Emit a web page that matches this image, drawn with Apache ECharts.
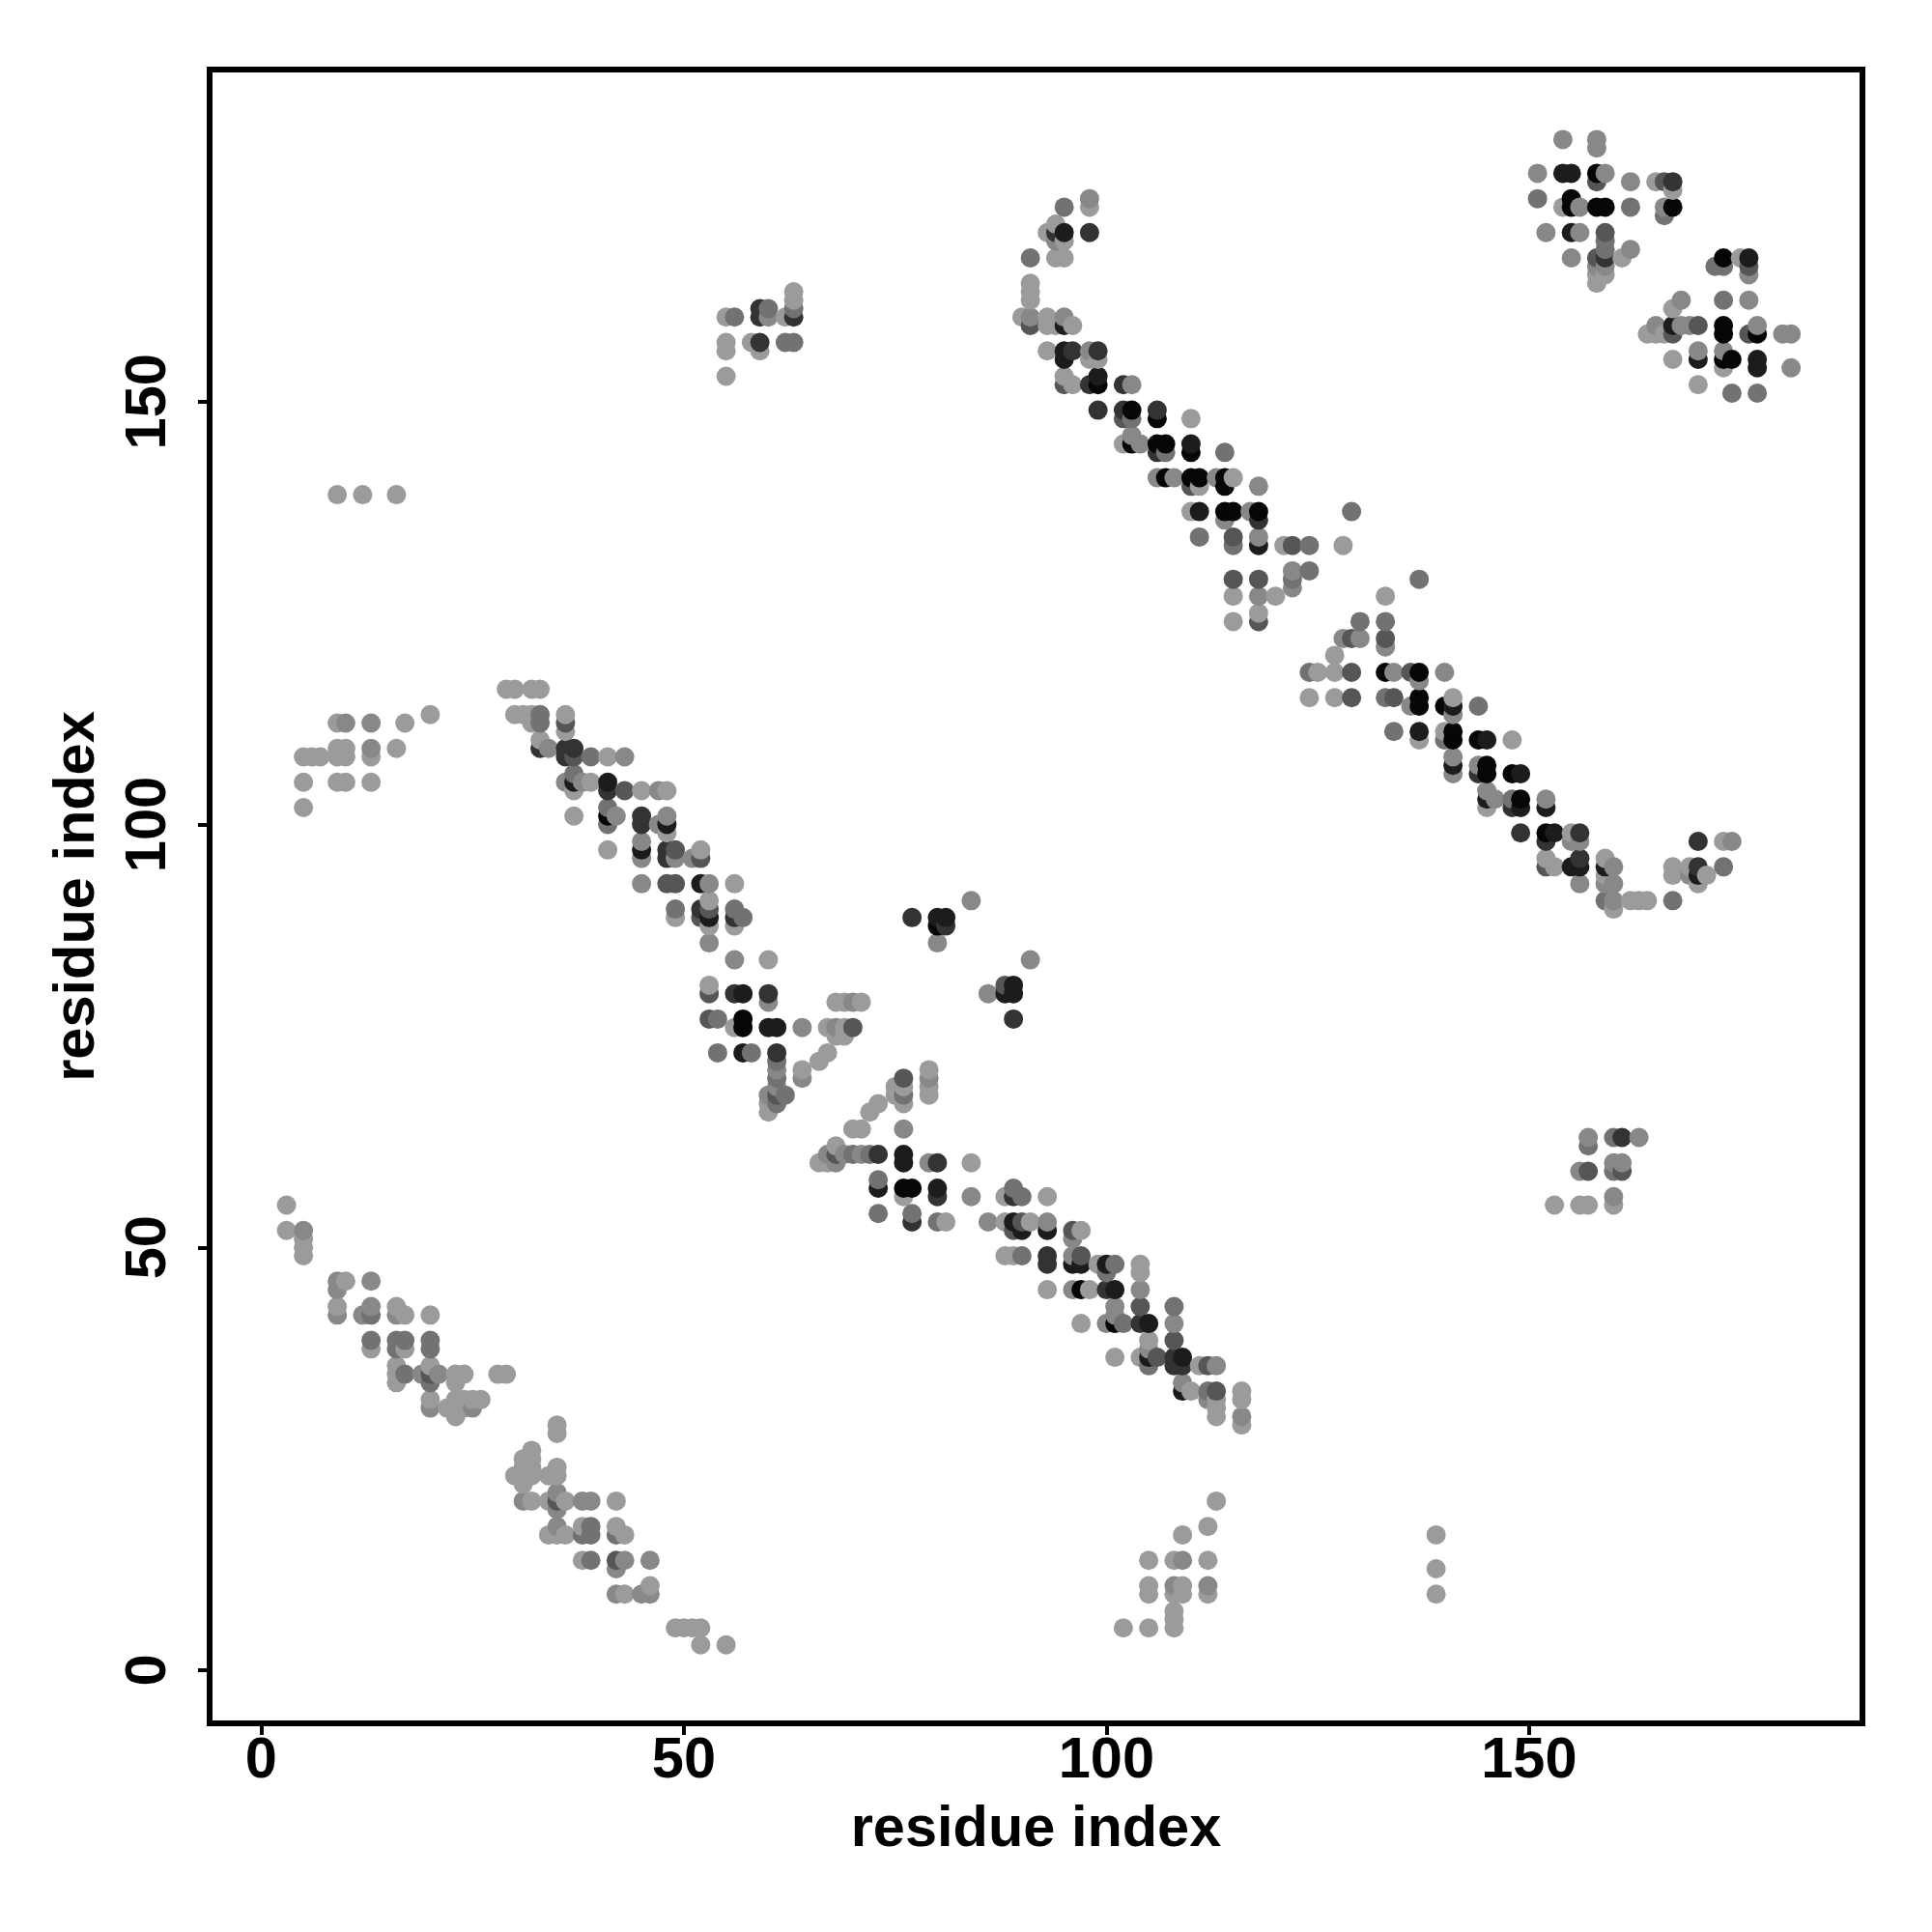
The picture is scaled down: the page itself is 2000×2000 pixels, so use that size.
<!DOCTYPE html>
<html><head><meta charset="utf-8">
<script src="https://cdn.jsdelivr.net/npm/echarts@6/dist/echarts.min.js"></script>
<style>html,body{margin:0;padding:0;background:#fff}#c{width:2000px;height:2000px}</style>
</head><body><div id="c"></div>
<script>
// each point: [residue x, residue y, shade index]
const shadeGreys = ['', '#9b9b9b', '#888888', '#727272', '#565656', '#333333', '#1c1c1c', '#060606'];
const xTicks = [0, 50, 100, 150];
const yTicks = [0, 50, 100, 150];
const axisTitle = 'residue index';

const stripLowLeft = [
[3,55,1],[3,52,1],[5,52,2],[5,51,1],[5,50,1],[5,49,1],
[9,46,2],[10,46,1],[13,46,2],[9,45,2],[9,43,1],[13,43,2],[16,43,1],
[9,42,2],[12,42,2],[13,42,3],[16,42,2],[17,42,1],[20,42,1],
[13,39,3],[16,39,3],[17,39,3],[20,39,3],[13,38,1],[16,38,3],[17,38,1],[20,38,3],
[16,36,1],[20,36,1],[16,35,1],[17,35,3],[19,35,2],[20,35,4],[21,35,2],[23,35,1],[24,35,1],[28,35,1],[29,35,1],
[16,34,1],[20,34,3],[23,34,1],[20,32,1],[23,32,1],[24,32,1],[25,32,1],[26,32,1],
[20,31,2],[22,31,1],[23,31,1],[24,31,1],[25,31,2],[23,30,1],
[35,29,1],[35,28,1],[32,26,1],[31,25,1],[32,25,1],[31,24,1],[32,24,1],[35,24,1],
[30,23,1],[31,23,1],[32,23,1],[34,23,1],[35,23,1],[31,22,1],[35,21,2],
[31,20,2],[32,20,1],[34,20,1],[35,20,4],[36,20,1],[38,20,2],[39,20,2],[42,20,1],[35,19,2],
[35,17,2],[38,17,1],[39,17,3],[42,17,1],[34,16,1],[35,16,1],[36,16,1],[38,16,3],[39,16,3],[42,16,3],[43,16,1],
[38,13,1],[39,13,3],[42,13,4],[43,13,2],[46,13,2],[42,12,2],[46,10,1],[42,9,2],[43,9,1],[45,9,2],[46,9,2],
[49,5,1],[50,5,1],[51,5,1],[52,5,1],[52,3,1],[55,3,1]
];
const stripMiddle = [
[49,93,4],[52,93,6],[53,93,2],[56,93,1],[49,90,3],[52,90,5],[53,90,4],[56,90,3],
[49,89,1],[52,89,4],[53,89,6],[56,89,5],[57,89,3],[53,91,1],[53,88,1],[56,88,1],[53,86,2],
[56,84,2],[60,84,1],[53,81,1],[53,80,4],[56,80,5],[57,80,6],[60,80,5],[60,79,2],
[53,77,4],[54,77,3],[56,76,1],[57,77,7],[57,76,7],[60,76,6],[61,76,6],[64,76,2],
[54,73,3],[57,73,6],[58,73,3],[61,73,5],[61,72,3],[61,71,2],[61,70,3],[61,69,2],
[60,68,2],[61,68,4],[62,68,3],[60,67,1],[61,67,3],[60,66,1],[64,71,1],[64,70,2],[66,72,1],[67,73,1],
[68,79,1],[69,79,1],[70,79,2],[71,79,1],[67,76,1],[68,76,2],[69,76,1],[70,76,4],[68,75,1],[69,75,1],
[73,67,1],[72,66,1],[70,64,1],[71,64,1],[76,64,2],
[76,70,4],[75,69,1],[76,69,1],[75,68,1],[76,68,3],[76,67,1],[79,71,1],[79,70,2],[79,69,1],[79,68,1],
[68,62,1],[67,61,2],[68,61,4],[69,61,2],[70,61,3],[71,61,2],[72,61,3],[73,61,5],[66,60,1],[67,60,1],[68,60,2],
[76,61,6],[76,60,6],[79,60,2],[80,60,5],[84,60,1],[73,58,3],[73,57,6],[76,57,7],[77,57,7],[76,56,1],
[80,57,6],[80,56,5],[84,56,2],[88,56,1],[89,57,3],[89,56,5],[90,56,3],[93,56,1]
];
const islands = [
[77,89,5],[80,89,6],[81,89,6],[80,88,7],[81,88,5],[80,86,2],[84,91,2],
[91,84,2],[86,80,2],[88,81,4],[89,81,6],[88,80,6],[89,80,6],[89,77,5]
];
const stripMidLow = [
[73,54,3],[77,54,3],[77,53,5],[80,53,3],[81,53,1],[86,53,2],[88,53,1],[89,53,6],[90,53,4],[91,53,1],[93,53,2],
[89,52,4],[90,52,6],[93,52,6],[96,52,4],[97,52,1],[96,51,2],
[88,49,1],[89,49,1],[90,49,3],[93,49,5],[96,49,2],[97,49,4],
[93,48,5],[96,48,6],[97,48,6],[99,48,1],[100,48,6],[101,48,3],[104,48,1],[100,47,3],[104,47,1],
[93,45,1],[96,45,2],[97,45,7],[98,45,1],[100,45,5],[101,45,6],[104,45,2],
[101,43,2],[104,43,4],[108,43,3],[101,42,2],[97,41,1],[100,41,2],[101,41,7],[102,41,3],[104,41,5],[105,41,6],[108,41,2],
[105,39,1],[108,39,4],[105,38,2],[101,37,1],[104,37,1],[105,37,6],[106,37,4],[108,37,5],[109,37,6],
[105,36,3],[108,36,5],[109,36,5],[111,36,1],[112,36,4],[113,36,2],
[109,34,2],[109,33,6],[110,33,1],[112,33,3],[113,33,4],[112,32,2],[113,32,1],[113,31,1],[113,30,1],
[116,33,1],[116,32,1],[116,30,2],[116,29,1]
];
const lowCluster = [
[113,20,1],[112,17,1],[109,16,1],[105,13,1],[108,13,1],[109,13,2],[112,13,1],
[105,10,1],[108,10,2],[109,10,1],[112,10,2],[105,9,1],[108,9,1],[109,9,1],[112,9,1],
[108,7,1],[108,6,1],[108,5,1],[102,5,1],[105,5,1],[139,16,1],[139,12,1],[139,9,1]
];
const stripUpperMiddle = [
[29,116,1],[30,116,1],[32,116,1],[33,116,1],[30,113,1],[31,113,1],[32,113,1],[33,113,3],[36,113,1],
[32,112,1],[33,112,3],[36,112,4],[36,111,1],[33,110,1],[33,109,5],[34,109,2],[36,109,5],[37,109,5],
[36,108,5],[37,108,4],[39,108,3],[41,108,1],[43,108,2],[37,106,3],
[36,105,2],[37,105,6],[38,105,2],[39,105,1],[41,105,6],[37,104,1],[41,104,5],[43,104,4],[45,104,1],[47,104,2],[48,104,1],
[41,102,3],[37,101,1],[41,101,7],[42,101,2],[45,101,5],[48,101,2],[41,100,3],[45,100,5],[47,100,2],[48,100,6],[48,99,1],
[45,98,2],[41,97,1],[45,97,6],[48,97,5],[49,97,4],[52,97,1],[45,96,2],[48,96,5],[49,96,2],[51,96,2],[52,96,4],
[45,93,2],[48,93,4]
];
const leftCluster = [
[9,139,1],[12,139,1],[16,139,1],[20,113,1],[9,112,1],[10,112,2],[13,112,2],[17,112,1],
[9,109,1],[10,109,1],[13,109,2],[16,109,1],[5,108,1],[6,108,1],[7,108,1],[9,108,1],[10,108,1],[13,108,1],
[5,105,1],[9,105,1],[10,105,1],[13,105,1],[5,102,1]
];
const topLeftCluster = [
[63,163,1],[63,162,1],[59,161,5],[60,161,3],[63,161,3],[55,160,1],[56,160,3],[59,160,5],[60,160,2],[62,160,1],[63,160,5],
[55,157,1],[58,157,1],[59,157,5],[62,157,3],[63,157,3],[55,156,1],[59,156,1],[55,153,1]
];
const stripUpperRightA = [
[98,174,2],[98,173,1],[95,173,3],[94,171,1],[93,170,1],[94,170,5],[95,170,6],[98,170,5],[94,169,2],[95,169,1],
[91,167,3],[94,167,1],[95,167,1],[91,164,1],[91,163,1],[91,162,1],
[90,160,1],[91,160,2],[93,160,1],[95,160,2],[91,159,4],[93,159,1],[94,159,1],[95,159,6],[96,159,1],
[93,156,1],[95,156,6],[96,156,5],[98,156,2],[99,156,5],[95,155,6],[98,155,1],[99,155,1],
[95,153,1],[99,153,6],[95,152,4],[96,152,1],[98,152,5],[99,152,7],[102,152,5],[103,152,2],
[99,149,5],[102,149,5],[103,149,7],[106,149,5],[102,148,4],[103,148,3],[106,148,7],[110,148,1],
[103,146,2],[102,145,1],[103,145,7],[104,145,2],[106,145,7],[107,145,7],[110,145,6],
[106,144,5],[107,144,3],[110,144,7],[114,144,3],
[106,141,2],[107,141,7],[108,141,2],[110,141,7],[111,141,7],[113,141,2],[114,141,7],[115,141,1],
[110,140,4],[111,140,1],[114,140,7],[118,140,2],
[110,137,1],[111,137,6],[114,137,7],[115,137,7],[117,137,2],[118,137,7],[129,137,3],
[114,136,2],[118,136,5],[111,134,3],[115,134,4],[118,134,2],[115,133,3],[118,133,6],[121,133,1],[122,133,4],[124,133,3],[128,133,1],
[122,130,2],[124,130,3],[115,129,4],[118,129,4],[122,129,3],[122,128,2],
[115,127,1],[118,127,2],[120,127,1],[118,125,1],[115,124,1],[118,124,4]
];
const stripUpperRightB = [
[137,129,3],[133,127,1],[130,124,3],[133,124,3],[128,122,2],[129,122,4],[130,122,2],[133,122,4],[133,121,2],[127,120,1],
[124,118,3],[125,118,1],[127,118,1],[129,118,4],[133,118,7],[134,118,2],[136,118,4],[137,118,7],[140,118,2],[137,117,2],
[124,115,1],[127,115,1],[129,115,4],[133,115,3],[134,115,4],[137,115,7],[141,115,1],
[136,114,2],[137,114,7],[140,114,7],[141,114,6],[144,114,3],[141,113,2],
[134,111,3],[137,111,6],[140,111,1],[141,111,7],[137,110,1],[140,110,3],[141,110,7],[144,110,7],[145,110,6],[148,110,1],
[141,108,2],[141,107,6],[144,107,2],[145,107,7],[141,106,2],[144,106,5],[145,106,7],[148,106,7],[149,106,6],
[145,104,2],[145,103,6],[146,103,2],[148,103,3],[149,103,7],[152,103,2],[145,102,1],[148,102,5],[149,102,6],[152,102,6],
[149,99,5],[152,99,7],[153,99,6],[155,99,1],[156,99,5],[152,98,5],[155,98,2],[156,98,2],
[152,96,1],[156,96,5],[159,96,1],[152,95,4],[153,95,1],[155,95,6],[156,95,6],[159,95,6],[160,95,2],
[159,94,1],[156,93,2],[159,93,2],[160,93,2],[159,91,3],[160,91,2],[162,91,1],[163,91,1],[164,91,1],[167,91,3],[160,90,1],
[170,98,5],[173,98,1],[174,98,2],[167,95,1],[169,95,1],[170,95,5],[173,95,3],[167,94,1],[169,94,2],[170,94,6],[171,94,1],[170,93,1]
];
const topRightCluster = [
[154,181,2],[158,181,2],[158,180,2],[151,177,2],[154,177,6],[155,177,6],[158,177,7],[159,177,2],
[158,176,4],[162,176,2],[165,176,1],[166,176,4],[167,176,5],[167,175,1],[151,174,3],[155,174,7],
[154,173,1],[155,173,7],[156,173,2],[158,173,7],[159,173,7],[162,173,3],[166,173,2],[167,173,7],[166,172,3],
[152,170,2],[155,170,6],[156,170,2],[159,170,4],[159,169,3],[159,168,3],[162,168,2],
[155,167,2],[158,167,4],[159,167,5],[161,167,1],[158,166,2],[159,166,2],[158,165,1],[159,165,1],[158,164,1],
[173,167,7],[175,167,1],[176,167,6],[172,166,3],[173,166,3],[176,166,4],[176,165,2],
[168,162,2],[173,162,3],[176,162,2],[167,161,1],
[165,159,2],[167,159,6],[168,159,2],[169,159,2],[170,159,4],[173,159,7],[177,159,2],
[164,158,1],[165,158,1],[166,158,1],[167,158,4],[173,158,7],[176,158,4],[177,158,7],[180,158,2],[181,158,2],
[170,156,2],[173,156,2],[167,155,1],[170,155,6],[173,155,7],[174,155,7],[177,155,6],
[173,154,1],[177,154,6],[181,154,2],[170,152,1],[174,151,3],[177,151,3]
];
const lowRightCluster = [
[153,55,1],[156,55,1],[157,55,1],[160,55,1],[160,56,2],
[156,59,2],[157,59,4],[160,59,3],[161,59,4],[160,60,2],[161,60,2],
[157,62,3],[157,63,2],[160,63,3],[161,63,5],[163,63,2]
];

const allGroups = [stripLowLeft, stripMiddle, islands, stripMidLow, lowCluster, stripUpperMiddle,
  leftCluster, topLeftCluster, stripUpperRightA, stripUpperRightB, topRightCluster, lowRightCluster];

const byKey = new Map();
allGroups.forEach(g => g.forEach(p => byKey.set(p[0] + '_' + p[1], p)));
const ordered = Array.from(byKey.values()).sort((a, b) => a[0] - b[0] || a[1] - b[1]);
const seriesData = ordered.map(p => ({ value: [p[0], p[1]], itemStyle: { color: shadeGreys[p[2]], opacity: 1 } }));

const font = 'Liberation Sans';
const chart = echarts.init(document.getElementById('c'), null, { renderer: 'canvas' });
chart.setOption({
  animation: false,
  backgroundColor: '#fff',
  grid: { left: 217, top: 72, width: 1711, height: 1712, show: true, borderColor: '#000', borderWidth: 6, backgroundColor: 'transparent', z: 5 },
  xAxis: {
    type: 'value', min: -6.1, max: 189.44, splitLine: { show: false },
    axisLine: { show: false, onZero: false },
    axisTick: { show: true, length: 12, lineStyle: { color: '#000', width: 4 }, customValues: xTicks },
    axisLabel: { show: true, color: '#000', fontFamily: font, fontWeight: 'bold', fontSize: 59.5, margin: 10, customValues: xTicks, showMinLabel: true, showMaxLabel: true },
    name: axisTitle, nameLocation: 'middle', nameGap: 81,
    nameTextStyle: { color: '#000', fontFamily: font, fontWeight: 'bold', fontSize: 59.5 }
  },
  yAxis: {
    type: 'value', min: -6.28, max: 189.27, splitLine: { show: false },
    axisLine: { show: false, onZero: false },
    axisTick: { show: true, length: 12, lineStyle: { color: '#000', width: 4 }, customValues: yTicks },
    axisLabel: { show: true, color: '#000', fontFamily: font, fontWeight: 'bold', fontSize: 59.5, margin: 62, rotate: 90, customValues: yTicks, align: 'center', verticalAlign: 'middle' },
    name: axisTitle, nameLocation: 'middle', nameGap: 106,
    nameTextStyle: { color: '#000', fontFamily: font, fontWeight: 'bold', fontSize: 59.5 }
  },
  series: [{ type: 'scatter', data: seriesData, symbol: 'circle', symbolSize: 20, silent: true, z: 2, clip: true, itemStyle: { opacity: 1 } }]
});
</script></body></html>
